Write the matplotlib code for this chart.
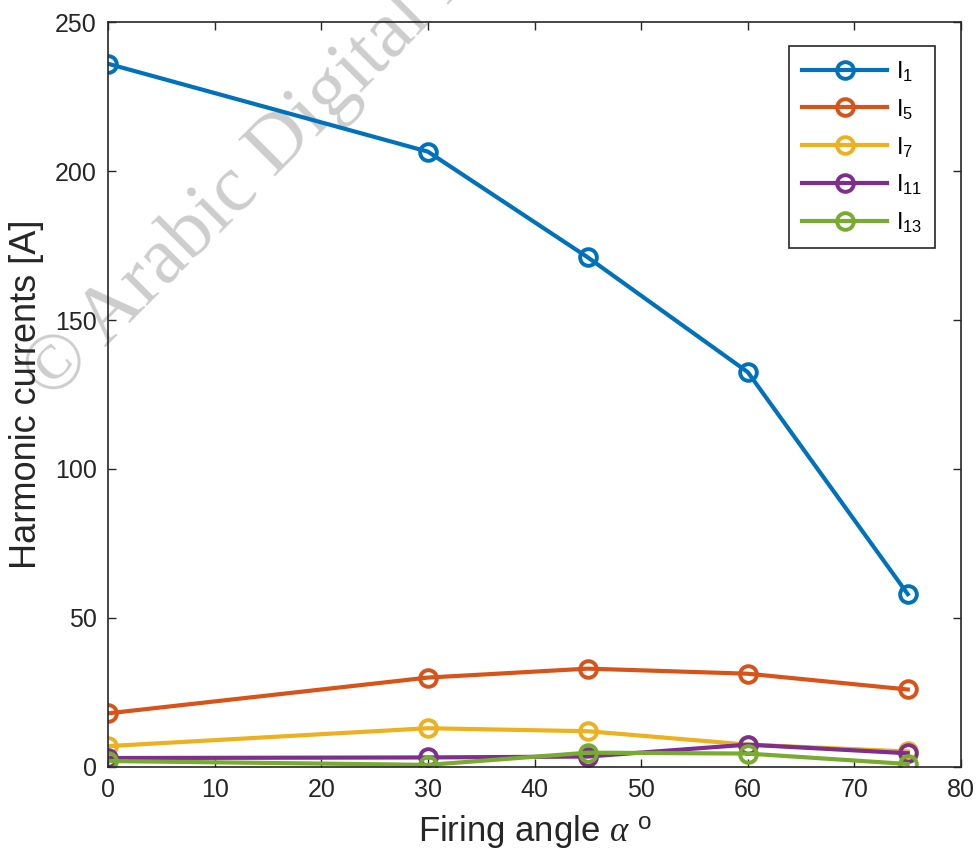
import matplotlib
matplotlib.use('Agg')
import matplotlib.pyplot as plt

plt.rcParams['font.family'] = ['Liberation Sans', 'DejaVu Sans']
plt.rcParams['mathtext.fontset'] = 'custom'
plt.rcParams['mathtext.rm'] = 'Liberation Sans'
plt.rcParams['mathtext.it'] = 'Liberation Serif:italic'

# 触发角 (度) 与各次谐波电流 (A)
alpha = [0, 30, 45, 60, 75]
I1 = [236, 206.5, 171, 132.5, 58]
I5 = [18, 30, 33, 31.3, 26]
I7 = [7, 13, 12, 7.5, 5.2]
I11 = [3, 3.2, 3.5, 7.5, 4.6]
I13 = [2, 0.7, 4.8, 4.5, 1]

series = [I1, I5, I7, I11, I13]
labels = [r'$\mathregular{I_{1}}$', r'$\mathregular{I_{5}}$', r'$\mathregular{I_{7}}$',
          r'$\mathregular{I_{11}}$', r'$\mathregular{I_{13}}$']
colors = ['#0072BD', '#D95319', '#EDB120', '#7E2F8E', '#77AC30']

fig = plt.figure(figsize=(9.76, 8.64), dpi=100)
ax = fig.add_axes([0.1107, 0.1123, 0.874, 0.8622])
ax.patch.set_alpha(0)

for y, lab, c in zip(series, labels, colors):
    ax.plot(alpha, y, color=c, linewidth=3, marker='o', markersize=12,
            fillstyle='none', markeredgewidth=2.8, label=lab)

ax.set_xlim(0, 80)
ax.set_ylim(0, 250)
ax.set_xticks(range(0, 81, 10))
ax.set_yticks(range(0, 251, 50))
ax.tick_params(direction='in', length=6, width=1, top=True, right=True,
               labelsize=18, colors='#262626', pad=8)
for s in ax.spines.values():
    s.set_color('#262626')
    s.set_linewidth(1.2)

ax.set_xlabel(r'Firing angle $\alpha$ $^{\mathregular{o}}$', fontsize=25, color='#262626', labelpad=8)
ax.set_ylabel('Harmonic currents [A]', fontsize=26, color='#262626', labelpad=8)

leg = ax.legend(loc='upper right', bbox_to_anchor=(0.9695, 0.968), borderaxespad=0,
                fontsize=17, handlelength=3.6, labelspacing=0.55, fancybox=False,
                framealpha=1, edgecolor='#262626', borderpad=0.55, handletextpad=0.35)
leg.get_frame().set_linewidth(1.2)

# 水印
fig.text(0.052, 0.535, '\u00a9 Arabic Digital Library', fontsize=58, color='#c8c8c8',
         family='Liberation Serif', rotation=45, rotation_mode='anchor',
         ha='left', va='baseline', zorder=-1, alpha=0.9)

fig.savefig('out.png', dpi=100)
